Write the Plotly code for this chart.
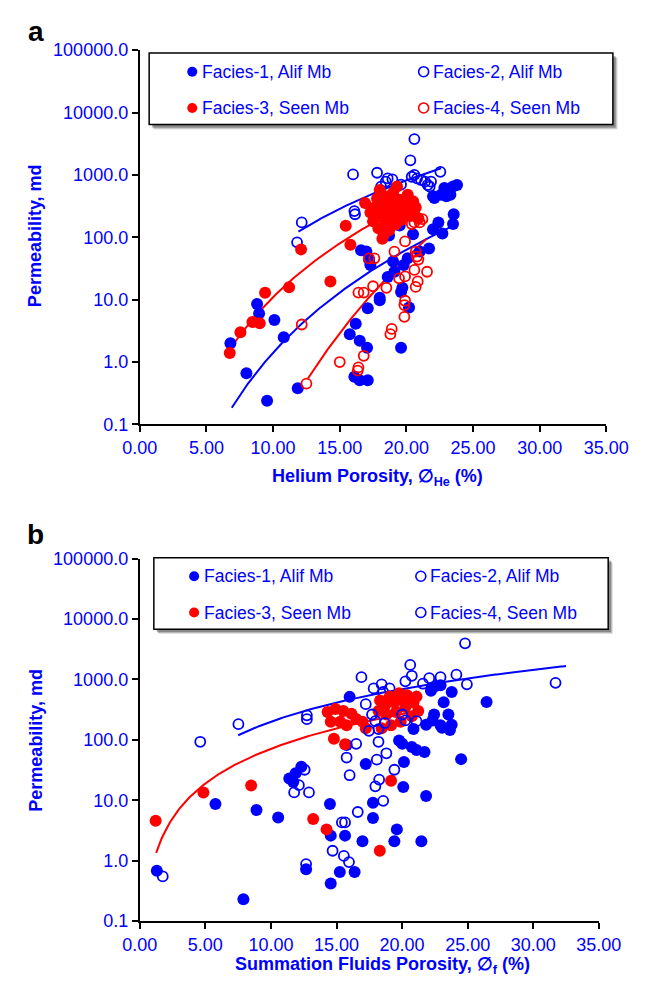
import numpy as np
import plotly.graph_objects as go

W, H = 649, 985
BLUE = "#0000ff"
RED = "#ff0000"
FONT = "Liberation Sans, Arial, sans-serif"

# ---------------- Panel a: helium porosity (%) vs permeability (md) ----------------
a_f1_phi = [6.8, 8.0, 8.8, 8.95, 9.55, 10.1, 10.8, 11.85,
            16.2, 15.75, 16.5, 17.05, 19.6, 16.1, 16.5, 17.1, 19.6, 18.0, 17.1, 20.2,
            22.85, 23.5, 23.8, 22.6, 23.0, 23.3, 22.1, 22.0,
            23.55, 23.5, 22.4, 22.0, 21.7, 21.0, 22.7, 20.6, 20.5,
            20.1, 19.8, 19.0, 19.1, 18.6, 18.0, 19.7, 17.0, 16.6, 17.2, 17.3,
            19.5, 18.7, 20.3]
a_f1_k = [2.0, 0.66, 8.5, 6.0, 0.24, 4.7, 2.5, 0.38,
          4.1, 2.8, 2.2, 1.7, 1.7, 0.58, 0.51, 0.51, 13.3, 9.8, 7.3, 7.5,
          616, 653, 690, 480, 455, 480, 426, 455,
          234, 163, 173, 135, 66, 59, 115, 316, 112,
          46, 36, 41, 28, 23, 10.7, 15.5, 59, 62, 44, 36,
          155, 107, 250]

a_f2_phi = [20.6, 20.3, 16.0, 17.8, 18.6, 18.95, 18.45, 20.6, 20.4, 20.8, 21.1, 21.4,
            21.6, 21.85, 22.55, 21.75, 16.1, 16.15, 12.15, 11.8, 18.1, 19.6]
a_f2_k = [3750, 1715, 1018, 1083, 880, 850, 780, 1000, 935, 880, 830, 780,
          690, 780, 1120, 650, 263, 234, 173, 83, 650, 700]

a_f3_phi = [6.75, 7.55, 8.45, 9.0, 9.4, 11.2, 12.1, 14.3, 15.45, 15.8,
            16.9, 17.3, 17.5, 17.6, 17.8, 17.9, 18.0, 18.1, 18.2, 18.3, 18.4, 18.5,
            18.6, 18.7, 18.8, 18.9, 19.0, 19.1, 19.2, 19.3, 19.4, 19.5, 19.6, 19.8,
            20.0, 20.1, 20.3, 20.5, 20.7, 20.9, 18.2, 17.7]
a_f3_k = [1.39, 3.0, 4.4, 4.2, 12.9, 15.8, 64, 19.6, 153, 76,
          355, 250, 180, 300, 420, 140, 575, 230, 330, 110, 180, 450,
          260, 130, 380, 200, 520, 300, 160, 650, 240, 400, 190, 330,
          260, 480, 220, 380, 300, 200, 95, 220]

a_f4_phi = [12.15, 12.5, 15.0, 16.35, 16.4, 16.8, 18.8, 18.9, 19.85, 19.85, 20.7,
            16.4, 16.8, 17.5, 18.5, 19.9,
            20.8, 21.2, 20.4, 20.6, 21.0, 19.9, 19.1, 17.2, 17.6, 20.7, 20.8, 20.9,
            20.6, 21.55, 20.85, 19.9, 19.45]
a_f4_k = [4.0, 0.45, 1.0, 0.73, 0.82, 1.26, 2.8, 3.4, 5.3, 8.2, 16,
          13, 13, 16.4, 15.5, 9.6,
          209, 195, 163, 173, 173, 86, 59, 46, 46, 59, 49, 44,
          30, 28, 19.6, 23.6, 22]

# power-law trendlines k = c * phi**m, drawn between phi_min and phi_max
a_fit_c = [4.68e-6, 0.01459, 1.383e-4, 1.3e-11]
a_fit_m = [5.48, 3.65, 4.9, 9.65]
a_fit_lo = [6.9, 11.9, 6.75, 12.6]
a_fit_hi = [23.8, 22.6, 20.9, 21.5]

# ---------------- Panel b: summation fluids porosity (%) vs permeability (md) ----------------
b_f1_phi = [1.3, 5.77, 7.9, 8.9, 10.55, 11.4, 11.88, 12.32, 11.7, 12.68, 14.5, 14.56, 14.56,
            15.25, 15.65, 16.38, 15.77, 16.0,
            24.5, 21.83, 20.09, 17.78, 17.78, 19.6, 16.98, 19.41, 21.47, 17.23, 20.14,
            21.1, 21.71, 23.65, 22.93, 22.32, 19.77, 20.01, 20.74,
            22.56, 22.93, 22.2, 23.78, 23.17, 26.44, 22.44, 23.53, 23.78, 23.05, 21.83, 20.87]
b_f1_k = [0.68, 8.7, 0.23, 6.9, 5.2, 23, 28, 36, 20, 0.72, 8.7, 0.42, 2.6,
          0.65, 2.6, 0.65, 82, 515,
          48, 11.8, 16.6, 9.1, 5.1, 3.3, 2.1, 2.1, 2.1, 40, 43,
          68, 63, 145, 174, 209, 98, 86, 76,
          780, 800, 650, 620, 420, 425, 263, 263, 178, 158, 178, 151]

b_f2_phi = [4.61, 7.52, 12.74, 12.74, 24.8, 20.62, 20.74, 16.9, 22.07, 22.93, 24.14, 24.94,
            20.25, 21.59, 22.27, 18.44, 17.83, 18.56, 19.05, 17.23, 31.7]
b_f2_k = [93, 182, 255, 220, 3960, 1740, 1150, 1090, 1050, 1090, 1200, 830,
          930, 850, 720, 830, 710, 620, 710, 390, 880]

b_f3_phi = [1.21, 4.85, 8.49, 13.22, 14.24, 18.3, 19.16, 15.65, 14.8,
            14.32, 14.92, 15.52, 16.14, 16.5, 15.28, 14.56, 15.77, 16.98, 17.23,
            18.32, 19.05, 19.77, 20.38, 21.1, 20.87, 20.14, 19.41, 18.68, 18.2,
            18.8, 19.53, 20.25, 21.23, 19.89, 19.16, 18.44, 20.74]
b_f3_k = [4.6, 13.5, 17.5, 4.9, 3.3, 1.46, 21, 85, 104,
          290, 325, 300, 270, 222, 200, 200, 175, 200, 155,
          450, 520, 590, 550, 520, 415, 440, 415, 365, 300,
          263, 290, 350, 300, 200, 175, 155, 245]

b_f4_phi = [1.75, 12.68, 14.7, 15.56, 15.95, 11.77, 12.13, 12.9, 12.57, 15.77, 16.0,
            16.5, 18.07, 17.96, 18.25, 18.56, 16.62, 15.65, 15.41, 19.41, 18.8, 18.2,
            17.71, 17.96, 18.68, 20.01, 20.25, 21.1, 17.47, 18.2]
b_f4_k = [0.55, 0.88, 1.46, 1.2, 0.95, 13.5, 17.8, 13.5, 32, 51, 26,
          86, 47, 17, 22, 9.8, 6.4, 4.3, 4.3, 32, 60, 93,
          263, 204, 190, 263, 210, 204, 141, 151]

b_fit_c = [3.17, 0.878]
b_fit_m = [1.8, 1.91]
b_fit_lo = [7.5, 1.25]
b_fit_hi = [32.5, 21.2]
b_fit_color = [BLUE, RED]

x_ticks = [0, 5, 10, 15, 20, 25, 30, 35]
x_ticktext = ["0.00", "5.00", "10.00", "15.00", "20.00", "25.00", "30.00", "35.00"]
y_ticks = [0.1, 1, 10, 100, 1000, 10000, 100000]
y_ticktext = ["0.1", "1.0", "10.0", "100.0", "1000.0", "10000.0", "100000.0"]


def fx(p):
    return p / W


def fy(p):
    return 1 - p / H


fig = go.Figure()


def trend(c, m, lo, hi, color, xa, ya):
    xs = np.linspace(lo, hi, 200)
    fig.add_trace(go.Scatter(x=xs, y=c * xs ** m, mode="lines", xaxis=xa, yaxis=ya,
                             line=dict(color=color, width=2), hoverinfo="skip"))


def pts(x, y, color, filled, xa, ya):
    if filled:
        marker = dict(symbol="circle", size=12, color=color, line=dict(width=0))
    else:
        marker = dict(symbol="circle-open", size=10, color=color, line=dict(width=1.8, color=color))
    fig.add_trace(go.Scatter(x=x, y=y, mode="markers", xaxis=xa, yaxis=ya, marker=marker))


# panel a
for c, m, lo, hi, col in zip(a_fit_c, a_fit_m, a_fit_lo, a_fit_hi, [BLUE, BLUE, RED, RED]):
    trend(c, m, lo, hi, col, "x", "y")
pts(a_f1_phi, a_f1_k, BLUE, True, "x", "y")
pts(a_f2_phi, a_f2_k, BLUE, False, "x", "y")
pts(a_f3_phi, a_f3_k, RED, True, "x", "y")
pts(a_f4_phi, a_f4_k, RED, False, "x", "y")

# panel b
for c, m, lo, hi, col in zip(b_fit_c, b_fit_m, b_fit_lo, b_fit_hi, b_fit_color):
    trend(c, m, lo, hi, col, "x2", "y2")
pts(b_f1_phi, b_f1_k, BLUE, True, "x2", "y2")
pts(b_f2_phi, b_f2_k, BLUE, False, "x2", "y2")
pts(b_f3_phi, b_f3_k, RED, True, "x2", "y2")
pts(b_f4_phi, b_f4_k, BLUE, False, "x2", "y2")

tickfont = dict(family=FONT, size=18, color=BLUE)
xcommon = dict(range=[0, 35], tickvals=x_ticks, ticktext=x_ticktext, showgrid=False, zeroline=False,
               showline=True, linecolor="black", linewidth=2, ticks="outside", ticklen=6,
               tickwidth=1.5, tickcolor="black", tickfont=tickfont)
ycommon = dict(type="log", range=[-1, 5], tickvals=y_ticks, ticktext=y_ticktext, showgrid=False,
               zeroline=False, showline=True, linecolor="black", linewidth=2, ticks="outside",
               ticklen=6, tickwidth=1.5, tickcolor="black", tickfont=tickfont)

fig.update_layout(
    width=W, height=H, margin=dict(l=0, r=0, t=0, b=0),
    paper_bgcolor="white", plot_bgcolor="white", showlegend=False,
    xaxis=dict(domain=[fx(130), fx(628)], anchor="y", **xcommon),
    yaxis=dict(domain=[fy(423), fy(41)], anchor="x", **ycommon),
    xaxis2=dict(domain=[fx(130), fx(620)], anchor="y2", **xcommon),
    yaxis2=dict(domain=[fy(930), fy(560)], anchor="x2", **ycommon),
)

shapes = []
annotations = []


def legend_box(x0, y0, x1, y1):
    for off, alpha in [(5, 0.12), (4, 0.18), (3, 0.25)]:
        shapes.append(dict(type="rect", xref="paper", yref="paper", x0=fx(x0 + off), x1=fx(x1 + off),
                           y0=fy(y1 + off), y1=fy(y0 + off), line=dict(width=0),
                           fillcolor="rgba(0,0,0,%g)" % alpha))
    shapes.append(dict(type="rect", xref="paper", yref="paper", x0=fx(x0), x1=fx(x1),
                       y0=fy(y1), y1=fy(y0), line=dict(color="black", width=1.5), fillcolor="white"))


def legend_item(mx, my, color, filled, label):
    d = 10
    shapes.append(dict(type="circle", xref="paper", yref="paper", xsizemode="pixel", ysizemode="pixel",
                       xanchor=fx(mx), yanchor=fy(my), x0=-d / 2, x1=d / 2, y0=-d / 2, y1=d / 2,
                       fillcolor=color if filled else "rgba(0,0,0,0)",
                       line=dict(color=color, width=0 if filled else 1.6)))
    annotations.append(dict(x=fx(mx + 8), y=fy(my), xref="paper", yref="paper", text=label,
                            showarrow=False, xanchor="left", yanchor="middle",
                            font=dict(family=FONT, size=17.5, color=BLUE)))


legend_labels = ["Facies-1, Alif Mb", "Facies-2, Alif Mb", "Facies-3, Seen Mb", "Facies-4, Seen Mb"]

# legend of panel a
legend_box(140, 44, 635, 117)
legend_item(186, 63, BLUE, True, legend_labels[0])
legend_item(433, 63, BLUE, False, legend_labels[1])
legend_item(186, 100, RED, True, legend_labels[2])
legend_item(433, 100, RED, False, legend_labels[3])

# legend of panel b
legend_box(145, 559, 630, 632)
legend_item(188, 578, BLUE, True, legend_labels[0])
legend_item(430, 578, BLUE, False, legend_labels[1])
legend_item(188, 615, RED, True, legend_labels[2])
legend_item(430, 615, BLUE, False, legend_labels[3])


def text(x, y, s, size, color, bold=True, angle=0):
    annotations.append(dict(x=fx(x), y=fy(y), xref="paper", yref="paper",
                            text="<b>%s</b>" % s if bold else s, showarrow=False,
                            xanchor="center", yanchor="middle", textangle=angle,
                            font=dict(family=FONT, size=size, color=color)))


text(19, 22, "a", 28, "black")
text(19, 535, "b", 28, "black")
text(384, 477, "Helium Porosity, \u2205<sub>He</sub> (%)", 18, BLUE)
text(389, 975, "Summation Fluids Porosity, \u2205<sub>f</sub> (%)", 18, BLUE)
text(19, 230, "Permeability, md", 18, BLUE, angle=-90)
text(19, 745, "Permeability, md", 18, BLUE, angle=-90)

fig.update_layout(shapes=shapes, annotations=annotations)

# the page body gets no default margin so the 649x985 figure fills the window exactly
fig.write_html("out.html",
               post_script="document.documentElement.style.margin='0';"
                           "document.body.style.margin='0';"
                           "document.body.style.overflow='hidden';")
